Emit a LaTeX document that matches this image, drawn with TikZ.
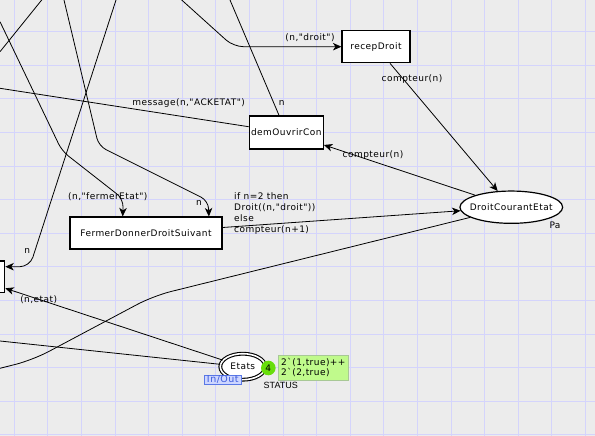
\documentclass[tikz,border=0pt]{standalone}
\usepackage{fontspec}
\usetikzlibrary{arrows.meta,shapes.geometric}
\newfontfamily\cpnfont[LetterSpace=5]{DejaVu Sans}
\newfontfamily\statusfont{Liberation Sans}
\definecolor{bgcol}{RGB}{236,236,236}
\definecolor{gridcol}{RGB}{212,212,252}
\definecolor{tokgreen}{RGB}{104,222,10}
\definecolor{markgreen}{RGB}{192,250,140}
\definecolor{markborder}{RGB}{168,200,150}
\definecolor{inoutfill}{RGB}{205,214,255}
\definecolor{inoutborder}{RGB}{90,120,230}
\definecolor{inouttext}{RGB}{60,90,220}
\begin{document}
\begin{tikzpicture}[x=1pt,y=-1pt,
  every node/.style={font=\cpnfont\fontsize{9}{11}\selectfont, inner sep=0pt},
  trans/.style={draw, fill=white, line width=1.2pt, rectangle},
  place/.style={draw, fill=white, line width=1.2pt, ellipse},
  arc/.style={line width=0.8pt, draw=black},
  tip/.style={-{Stealth[length=8.5pt,width=7.5pt,inset=2.5pt]}},
]
% canvas and grid
\fill[bgcol] (0,0) rectangle (595,436);
\useasboundingbox (0,0) rectangle (595,436);
\foreach \i in {0,...,17} \draw[gridcol, line width=1pt] ({14.3+33.6*\i},0) -- ({14.3+33.6*\i},436);
\foreach \j in {0,...,13} \draw[gridcol, line width=1pt] (0,{-1.9+33.6*\j}) -- (595,{-1.9+33.6*\j});

% transitions
\node[trans, minimum width=68pt, minimum height=32pt] (recepDroit) at (376,46.7) {recepDroit};
\node[trans, minimum width=74pt, minimum height=33pt] (demOuvrirCon) at (286.3,132.5) {demOuvrirCon};
\node[trans, minimum width=152pt, minimum height=32pt] (fermer) at (146,233) {FermerDonnerDroitSuivant};
\node[trans, minimum width=70pt, minimum height=31.3pt] (leftT) at (-30.3,276.7) {};

% places (shape sized explicitly, name set on top)
\node[place, minimum width=102.7pt, minimum height=32.3pt] (droit) at (511.3,207.2) {};
\node (droitName) at (droit.center) {DroitCourantEtat};
\node[ellipse, draw, fill=white, line width=1.1pt, double=white, double distance=1.6pt,
      minimum width=45pt, minimum height=26pt] (Etats) at (242.8,366.7) {};
\node (etatsName) at (Etats.center) {Etats};

% free ends of arcs leaving the sheet
\coordinate (t1) at (181.7,0);
\coordinate (t2) at (230,0);
\coordinate (m0) at (0,88.3);
\coordinate (d0) at (0,21.7);
\coordinate (b0) at (64,0);
\coordinate (a0) at (116,0);
\coordinate (eA) at (0,51.7);
\coordinate (eB) at (41.7,0);
\coordinate (e0) at (0,341);
\coordinate (o7) at (-12,371.3);

% arcs
\draw[arc, tip, rounded corners=10pt] (t1) -- (233.5,46.7) -- (recepDroit.west);
\draw[arc] (t2) -- (demOuvrirCon);
\draw[arc] (m0) -- (demOuvrirCon);
\draw[arc, tip] (recepDroit) -- (droit);
\draw[arc, tip] (droit) -- (demOuvrirCon);
\draw[arc, tip] ([yshift=5.5pt]fermer.east) -- (droit.184);
\draw[arc, rounded corners=18pt] (droit) -- (153.3,295.9) -- (32.6,360.1) -- (o7);
\draw[arc, tip] (Etats) -- ([yshift=-11.6pt]leftT.east);
\draw[arc] (e0) -- (Etats);
\draw[arc, tip, rounded corners=8pt] (d0) -- (62,151) -- (123.3,199) -- ([xshift=53.3pt]fermer.north west);
\draw[arc, tip, rounded corners=8pt] (b0) -- (98.75,146) -- (208.3,200.8) -- ([xshift=-13.7pt]fermer.north east);
\draw[arc, tip, rounded corners=10pt] (a0) -- (29.8,266.7) -- ([yshift=10pt]leftT.east);
\draw[arc] (eA) -- (eB);

% arc inscriptions
\node (lDroit) at (310,37.5) {(n,"droit")};
\node (lMsg) at (188.7,102.7) {message(n,"ACKETAT")};
\node (lN1) at (281.7,102.7) {n};
\node (lC1) at (412,79) {compteur(n)};
\node (lC2) at (373,155) {compteur(n)};
\node (lFerm) at (107.8,196.7) {(n,"fermerEtat")};
\node (lN2) at (199,202.7) {n};
\node (lN3) at (27.3,251) {n};
\node (lEtat) at (38.7,300) {(n,etat)};
\node[anchor=base west] (lIf1) at (234,199) {if n=2 then};
\node[anchor=base west] (lIf2) at (234,210.3) {Droit((n,"droit"))};
\node[anchor=base west] (lIf3) at (234,221.5) {else};
\node[anchor=base west] (lIf4) at (234,232.8) {compteur(n+1)};
\node (lPa) at (555,225.7) {Pa};

% place decorations
\node[draw=markborder, fill=markgreen, minimum width=69.4pt, minimum height=25pt, anchor=north west] (mark) at (278.3,355) {};
\node[anchor=base west] (mk1) at (281,365.3) {2`(1,true)++};
\node[anchor=base west] (mk2) at (281,375.7) {2`(2,true)};
\node[circle, fill=tokgreen, minimum size=14.6pt] (tok) at (268.3,368) {4};
\node[font=\statusfont\fontsize{9}{11}\selectfont] (status) at (280.8,385.3) {STATUS};
\node[draw=inoutborder, fill=inoutfill, text=inouttext, minimum width=37.5pt, minimum height=8.8pt,
      font=\cpnfont\fontsize{9.5}{10}\selectfont] (inout) at (222.8,379.8) {In/Out};
\end{tikzpicture}
\end{document}
